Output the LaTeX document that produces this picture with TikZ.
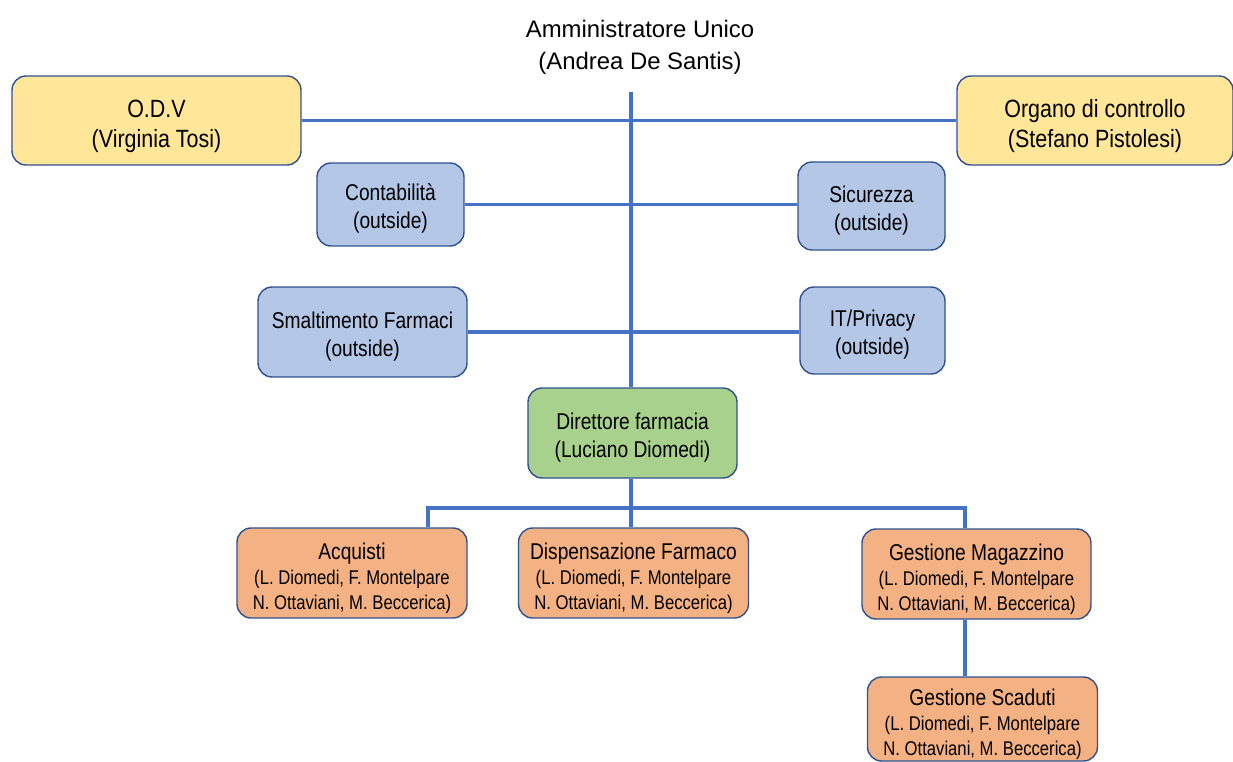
\documentclass[tikz,border=0pt]{standalone}
\usepackage{fontspec}
\usepackage{tikz}
\setmainfont{Liberation Sans}
\newfontfamily\narrowfont[FakeStretch=0.84]{Liberation Sans}
\newfontfamily\widefont[FakeStretch=0.86]{Liberation Sans}
\newcommand\bigtext{\widefont\fontsize{14.2}{17.2}\selectfont}
\newcommand\midtext{\narrowfont\fontsize{13}{15.9}\selectfont}
\newcommand\smalltext{\narrowfont\fontsize{11.3}{14.2}\selectfont}
% struts that push the text of a box a little down
\newcommand\ypad{\rule{0pt}{16.6pt}}
\newcommand\bpad{\rule{0pt}{14.4pt}}
\newcommand\opad{\rule{0pt}{15.8pt}}
\definecolor{linkblue}{HTML}{4472C4}
\definecolor{edgeblue}{HTML}{2F528F}
\definecolor{boxyellow}{HTML}{FFE699}
\definecolor{boxblue}{HTML}{B4C7E7}
\definecolor{boxgreen}{HTML}{A9D18E}
\definecolor{boxorange}{HTML}{F4B183}

\begin{document}
\begin{tikzpicture}[x=0.02cm,y=-0.02cm,
	box/.style={draw=edgeblue,line width=0.8pt,rounded corners=0.28cm,align=center,inner sep=0pt},
	yellowbox/.style={box,fill=boxyellow,font=\bigtext,minimum height=1.78cm},
	bluebox/.style={box,fill=boxblue,font=\midtext},
	greenbox/.style={box,fill=boxgreen,font=\midtext,minimum width=4.18cm,minimum height=1.8cm},
	orangebox/.style={box,fill=boxorange,font=\smalltext,minimum width=4.6cm,minimum height=1.8cm},
	link/.style={draw=linkblue,line width=2.2pt}]
\useasboundingbox (0,0) rectangle (1233,761);
\node [align=center,font=\fontsize{13.6}{18.4}\selectfont] (au) at (640,47.5) {Amministratore Unico\\(Andrea De Santis)};
\node [yellowbox,minimum width=5.78cm] (odv) at (156.5,120.5) {\ypad O.D.V\\(Virginia Tosi)};
\node [yellowbox,minimum width=5.52cm] (org) at (1095,120.5) {\ypad Organo di controllo\\(Stefano Pistolesi)};
\node [bluebox,minimum width=2.94cm,minimum height=1.66cm] (cont) at (390.5,204.5) {\bpad Contabilità\\(outside)};
\node [bluebox,minimum width=2.94cm,minimum height=1.76cm] (sic) at (871.5,206) {\bpad Sicurezza\\(outside)};
\node [bluebox,minimum width=4.18cm,minimum height=1.8cm] (smal) at (362.5,332) {\bpad Smaltimento Farmaci\\(outside)};
\node [bluebox,minimum width=2.9cm,minimum height=1.74cm] (itp) at (872.5,330.5) {\bpad IT/Privacy\\(outside)};
\node [greenbox] (dir) at (632.5,433) {\bpad Direttore farmacia\\(Luciano Diomedi)};
\node [orangebox] (acq) at (352,573) {{\midtext\opad Acquisti}\\(L. Diomedi, F. Montelpare\\N. Ottaviani, M. Beccerica)};
\node [orangebox] (disp) at (633.5,573) {{\midtext\opad Dispensazione Farmaco}\\(L. Diomedi, F. Montelpare\\N. Ottaviani, M. Beccerica)};
\node [orangebox,minimum width=4.58cm] (mag) at (976.5,574) {{\midtext\opad Gestione Magazzino}\\(L. Diomedi, F. Montelpare\\N. Ottaviani, M. Beccerica)};
\node [orangebox,minimum height=1.68cm] (sca) at (982.5,719) {{\midtext\opad Gestione Scaduti}\\(L. Diomedi, F. Montelpare\\N. Ottaviani, M. Beccerica)};
% connectors
\coordinate (top) at (631,92);
\coordinate (busL) at (428,508);
\coordinate (busR) at (965,508);
\draw [link] (top) -- (top |- dir.north);
\draw [link] (odv.east) -- (odv.east -| org.west);
\draw [link] (cont.east) -- (cont.east -| sic.west);
\draw [link] (smal.east) -- (smal.east -| itp.west);
\draw [link] (top |- dir.south) -- (top |- disp.north);
\draw [link] (busL |- acq.north) -- (busL) -- (busR) -- (busR |- mag.north);
\draw [link] (busR |- mag.south) -- (busR |- sca.north);
\end{tikzpicture}
\end{document}
